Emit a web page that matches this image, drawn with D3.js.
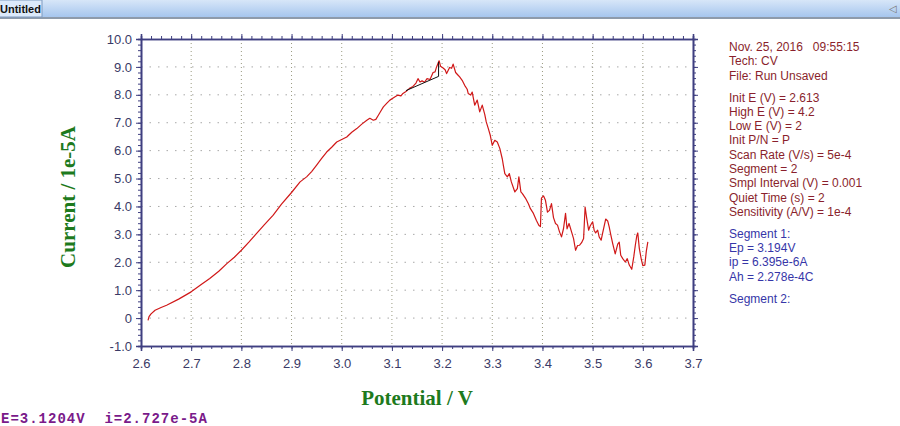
<!DOCTYPE html>
<html>
<head>
<meta charset="utf-8">
<script src="https://cdn.jsdelivr.net/npm/d3@7"></script>
<style>
  body { margin: 0; background: #fff; }
  svg { display: block; }
  text { white-space: pre; }
</style>
</head>
<body>
<div id="chart"></div>
<script>
// scan data: potential (V) and current (1e-5 A)
const potential = [2.614, 2.616, 2.620, 2.628, 2.640, 2.651, 2.675, 2.700, 2.720, 2.737, 2.755, 2.771, 2.786, 2.800,
  2.815, 2.830, 2.846, 2.863, 2.880, 2.900, 2.917, 2.930, 2.940, 2.950, 2.960, 2.970, 2.980, 2.990, 3.000, 3.010,
  3.020, 3.030, 3.040, 3.050, 3.056, 3.063, 3.068, 3.073, 3.078, 3.083, 3.090, 3.096, 3.104, 3.112, 3.118, 3.122,
  3.128, 3.135, 3.142, 3.148, 3.152, 3.156, 3.160, 3.165, 3.170, 3.176, 3.182, 3.186, 3.189, 3.194, 3.197, 3.202,
  3.206, 3.209, 3.215, 3.219, 3.222, 3.227, 3.231, 3.235, 3.240, 3.245, 3.250, 3.252, 3.257, 3.260, 3.265, 3.270,
  3.275, 3.280, 3.285, 3.288, 3.292, 3.296, 3.300, 3.305, 3.310, 3.315, 3.320, 3.322, 3.325, 3.330, 3.334, 3.338,
  3.345, 3.350, 3.353, 3.357, 3.360, 3.366, 3.372, 3.376, 3.382, 3.388, 3.393, 3.396, 3.398, 3.402, 3.406, 3.410,
  3.414, 3.418, 3.422, 3.426, 3.430, 3.434, 3.438, 3.442, 3.446, 3.449, 3.453, 3.458, 3.462, 3.466, 3.470, 3.474,
  3.478, 3.482, 3.485, 3.488, 3.492, 3.495, 3.500, 3.503, 3.506, 3.510, 3.513, 3.517, 3.520, 3.526, 3.530, 3.533,
  3.536, 3.540, 3.545, 3.550, 3.553, 3.556, 3.560, 3.565, 3.569, 3.573, 3.578, 3.582, 3.585, 3.588, 3.590, 3.593,
  3.597, 3.600, 3.604, 3.607, 3.610];
const current = [-0.08, 0.05, 0.15, 0.28, 0.38, 0.46, 0.68, 0.94, 1.20, 1.42, 1.68, 1.95, 2.18, 2.43,
  2.72, 3.03, 3.35, 3.68, 4.08, 4.50, 4.88, 5.06, 5.25, 5.48, 5.72, 5.95, 6.12, 6.31, 6.40, 6.49,
  6.66, 6.79, 6.95, 7.09, 7.16, 7.09, 7.12, 7.27, 7.42, 7.57, 7.70, 7.81, 7.90, 7.99, 7.96, 8.05,
  8.12, 8.23, 8.30, 8.42, 8.58, 8.46, 8.50, 8.45, 8.58, 8.55, 8.80, 8.82, 9.00, 9.22, 9.02, 8.96,
  8.90, 8.76, 8.98, 8.95, 9.10, 8.80, 8.72, 8.64, 8.52, 8.34, 8.20, 8.05, 7.99, 8.10, 7.63, 7.81,
  7.39, 7.63, 7.30, 7.03, 6.80, 6.55, 6.19, 6.37, 6.31, 6.08, 5.70, 5.48, 5.18, 5.06, 5.18, 4.88,
  4.52, 4.64, 5.06, 4.52, 4.46, 4.30, 4.10, 3.92, 3.75, 3.50, 3.32, 3.28, 4.30, 4.38, 4.22, 3.80,
  3.86, 4.10, 3.60, 3.39, 3.33, 3.09, 2.91, 3.21, 3.75, 3.20, 3.39, 3.09, 2.85, 2.43, 2.60, 2.61,
  2.70, 2.85, 3.98, 3.60, 3.15, 3.30, 3.45, 3.15, 3.05, 3.15, 2.91, 2.79, 3.05, 3.55, 3.48, 3.27,
  3.00, 2.67, 2.30, 2.65, 2.72, 2.25, 2.13, 2.01, 2.13, 1.90, 1.75, 2.20, 2.60, 2.95, 3.05, 2.50,
  2.10, 1.88, 1.90, 2.40, 2.73];

// peak baseline (black)
const baselineE = [3.128, 3.193, 3.193];
const baselineI = [8.15, 8.66, 9.18];

const xTicks = [2.6, 2.7, 2.8, 2.9, 3.0, 3.1, 3.2, 3.3, 3.4, 3.5, 3.6, 3.7];
const yTicks = [-1, 0, 1, 2, 3, 4, 5, 6, 7, 8, 9, 10];

const infoLines = [
  "Nov. 25, 2016   09:55:15", "Tech: CV", "File: Run Unsaved", null,
  "Init E (V) = 2.613", "High E (V) = 4.2", "Low E (V) = 2", "Init P/N = P",
  "Scan Rate (V/s) = 5e-4", "Segment = 2", "Smpl Interval (V) = 0.001",
  "Quiet Time (s) = 2", "Sensitivity (A/V) = 1e-4", null
];
const segmentLines = ["Segment 1:", "Ep = 3.194V", "ip = 6.395e-6A", "Ah = 2.278e-4C", null, "Segment 2:"];

const width = 900, height = 426;
const axisColor = "#3f3f80";

const svg = d3.select("#chart").append("svg")
  .attr("width", width)
  .attr("height", height)
  .style("font-family", "'Liberation Sans', Arial, sans-serif");

// window tab bar
const defs = svg.append("defs");
const grad = defs.append("linearGradient").attr("id", "bar").attr("x1", 0).attr("y1", 0).attr("x2", 0).attr("y2", 1);
grad.append("stop").attr("offset", "0%").attr("stop-color", "#d7e6f8");
grad.append("stop").attr("offset", "100%").attr("stop-color", "#a6c6ee");
svg.append("rect").attr("x", 0).attr("y", 0).attr("width", width).attr("height", 17).attr("fill", "url(#bar)");
svg.append("rect").attr("x", 0).attr("y", 17).attr("width", width).attr("height", 2).attr("fill", "#8e9bab");
svg.append("rect").attr("x", -2).attr("y", 0).attr("width", 44).attr("height", 17)
  .attr("fill", "#dceafb").attr("stroke", "#7f9bc0").attr("stroke-width", 1);
svg.append("text").attr("x", 0).attr("y", 12.5)
  .attr("font-size", 11).attr("font-weight", "bold").attr("fill", "#111")
  .text("Untitled");
svg.append("text").attr("x", 893).attr("y", 12)
  .attr("font-size", 10).attr("fill", "#777").attr("text-anchor", "middle")
  .text("\u25C1");

const x = d3.scaleLinear().domain([2.6, 3.7]).range([141, 693]);
const y = d3.scaleLinear().domain([-1, 10]).range([346, 39]);

// grid
const grid = svg.append("g");
grid.selectAll(".vg")
  .data(xTicks.slice(1, -1))
  .enter().append("line")
  .attr("x1", d => x(d)).attr("x2", d => x(d))
  .attr("y1", y(10)).attr("y2", y(-1))
  .attr("stroke", "#9a9a80").attr("stroke-width", 1).attr("stroke-dasharray", "1,3");
grid.selectAll(".hg")
  .data(yTicks.slice(1, -1))
  .enter().append("line")
  .attr("x1", x(2.6)).attr("x2", x(3.7))
  .attr("y1", d => y(d)).attr("y2", d => y(d))
  .attr("stroke", "#a8a8a8").attr("stroke-width", 1).attr("stroke-dasharray", "1.5,7");

// axes: major + minor ticks on all four sides
const xMinor = d3.range(2.6, 3.7001, 0.02);
const yMinor = d3.range(-1, 10.001, 0.2);
const fmtY = d => d === 0 ? "0" : d.toFixed(1);

function styleAxis(g) {
  g.selectAll("path, line").attr("stroke", axisColor);
  g.select(".domain").attr("stroke-width", 1.6);
  g.selectAll("text").attr("fill", "#3a3a66").attr("font-size", 13)
    .attr("font-family", "'Liberation Sans', Arial, sans-serif");
}

svg.append("g").attr("transform", `translate(0,${y(-1)})`)
  .call(d3.axisBottom(x).tickValues(xTicks).tickFormat(d => d.toFixed(1)).tickSize(5).tickPadding(8))
  .call(styleAxis);
svg.append("g").attr("transform", `translate(0,${y(-1)})`)
  .call(d3.axisBottom(x).tickValues(xMinor).tickFormat("").tickSize(3))
  .call(styleAxis);
svg.append("g").attr("transform", `translate(0,${y(10)})`)
  .call(d3.axisTop(x).tickValues(xTicks).tickFormat("").tickSize(5))
  .call(styleAxis);
svg.append("g").attr("transform", `translate(0,${y(10)})`)
  .call(d3.axisTop(x).tickValues(xMinor).tickFormat("").tickSize(3))
  .call(styleAxis);
svg.append("g").attr("transform", `translate(${x(2.6)},0)`)
  .call(d3.axisLeft(y).tickValues(yTicks).tickFormat(fmtY).tickSize(5).tickPadding(4))
  .call(styleAxis);
svg.append("g").attr("transform", `translate(${x(2.6)},0)`)
  .call(d3.axisLeft(y).tickValues(yMinor).tickFormat("").tickSize(3))
  .call(styleAxis);
svg.append("g").attr("transform", `translate(${x(3.7)},0)`)
  .call(d3.axisRight(y).tickValues(yTicks).tickFormat("").tickSize(5))
  .call(styleAxis);
svg.append("g").attr("transform", `translate(${x(3.7)},0)`)
  .call(d3.axisRight(y).tickValues(yMinor).tickFormat("").tickSize(3))
  .call(styleAxis);

// curve
const line = d3.line().x(d => x(d[0])).y(d => y(d[1]));
svg.append("path")
  .datum(d3.zip(potential, current))
  .attr("d", line)
  .attr("fill", "none")
  .attr("stroke", "#d01818")
  .attr("stroke-width", 1.2)
  .attr("stroke-linejoin", "round");
svg.append("path")
  .datum(d3.zip(baselineE, baselineI))
  .attr("d", line)
  .attr("fill", "none")
  .attr("stroke", "#111")
  .attr("stroke-width", 1);

// axis titles
svg.append("text")
  .attr("x", 417).attr("y", 405)
  .attr("text-anchor", "middle")
  .attr("font-family", "'Liberation Serif', 'Times New Roman', serif")
  .attr("font-weight", "bold").attr("font-size", 21).attr("fill", "#1d7a1d")
  .text("Potential / V");
svg.append("text")
  .attr("transform", "translate(75,197) rotate(-90)")
  .attr("text-anchor", "middle")
  .attr("font-family", "'Liberation Serif', 'Times New Roman', serif")
  .attr("font-weight", "bold").attr("font-size", 21).attr("fill", "#1d7a1d")
  .text("Current / 1e-5A");

// info panel
const info = svg.append("g").attr("font-size", 12);
let ty = 51;
infoLines.forEach(t => {
  if (t === null) { ty += 7.6; return; }
  info.append("text").attr("x", 729).attr("y", ty).attr("fill", "#8a1f2c").text(t);
  ty += 14.3;
});
segmentLines.forEach(t => {
  if (t === null) { ty += 7.6; return; }
  info.append("text").attr("x", 729).attr("y", ty).attr("fill", "#3636a8").text(t);
  ty += 14.3;
});

// cursor readout
svg.append("text")
  .attr("x", 1).attr("y", 423)
  .attr("font-family", "'Liberation Mono', 'Courier New', monospace")
  .attr("font-weight", "bold").attr("font-size", 14).attr("fill", "#7a1a8a")
  .attr("letter-spacing", 1)
  .text("E=3.1204V  i=2.727e-5A");
</script>
</body>
</html>
